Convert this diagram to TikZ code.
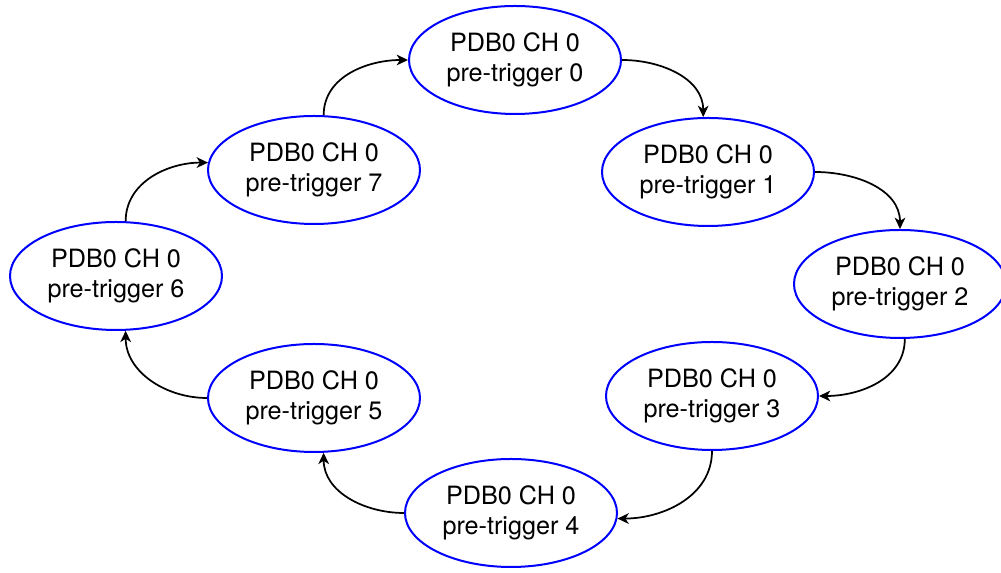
\documentclass[tikz,border=0pt]{standalone}
\usepackage{fontspec}
\setmainfont{TeX Gyre Heros}
\usepackage{xcolor}
\usepackage{tikz}
\usetikzlibrary{arrows.meta, shapes.geometric}

\begin{document}
\begin{tikzpicture}[
    x=0.75pt, y=0.75pt,
    trig/.style={ellipse, draw=blue, line width=1.5pt, inner sep=0pt, minimum width=159pt, minimum height=81pt, align=center, font=\fontsize{18.9}{22.5}\selectfont},
    arrow/.style={-{Stealth[length=8.5pt, width=8pt, inset=2.5pt]}, line width=1.3pt, black}
]
\useasboundingbox (0,0) rectangle (1001,573);

\node[trig] (pre0) at (515,513) {PDB0 CH 0\\pre-trigger 0};
\node[trig] (pre1) at (708,401) {PDB0 CH 0\\pre-trigger 1};
\node[trig] (pre2) at (900,289) {PDB0 CH 0\\pre-trigger 2};
\node[trig] (pre3) at (712,177) {PDB0 CH 0\\pre-trigger 3};
\node[trig] (pre4) at (511,60) {PDB0 CH 0\\pre-trigger 4};
\node[trig] (pre5) at (314,175) {PDB0 CH 0\\pre-trigger 5};
\node[trig] (pre6) at (116,297) {PDB0 CH 0\\pre-trigger 6};
\node[trig] (pre7) at (314,403) {PDB0 CH 0\\pre-trigger 7};

\draw[arrow] (pre0.east) to[out=0, in=90] (pre1.95);
\draw[arrow] (pre1.east) to[out=0, in=90] (pre2.north);
\draw[arrow] (pre2.-85) to[out=-90, in=0] (pre3.east);
\draw[arrow] (pre3.south) to[out=-90, in=0] (pre4.-3);
\draw[arrow] (pre4.west) to[out=180, in=-90] (pre5.-80);
\draw[arrow] (pre5.west) to[out=180, in=-90] (pre6.-80);
\draw[arrow] (pre6.80) to[out=90, in=180] (pre7.176);
\draw[arrow] (pre7.80) to[out=90, in=180] (pre0.west);

\end{tikzpicture}
\end{document}
